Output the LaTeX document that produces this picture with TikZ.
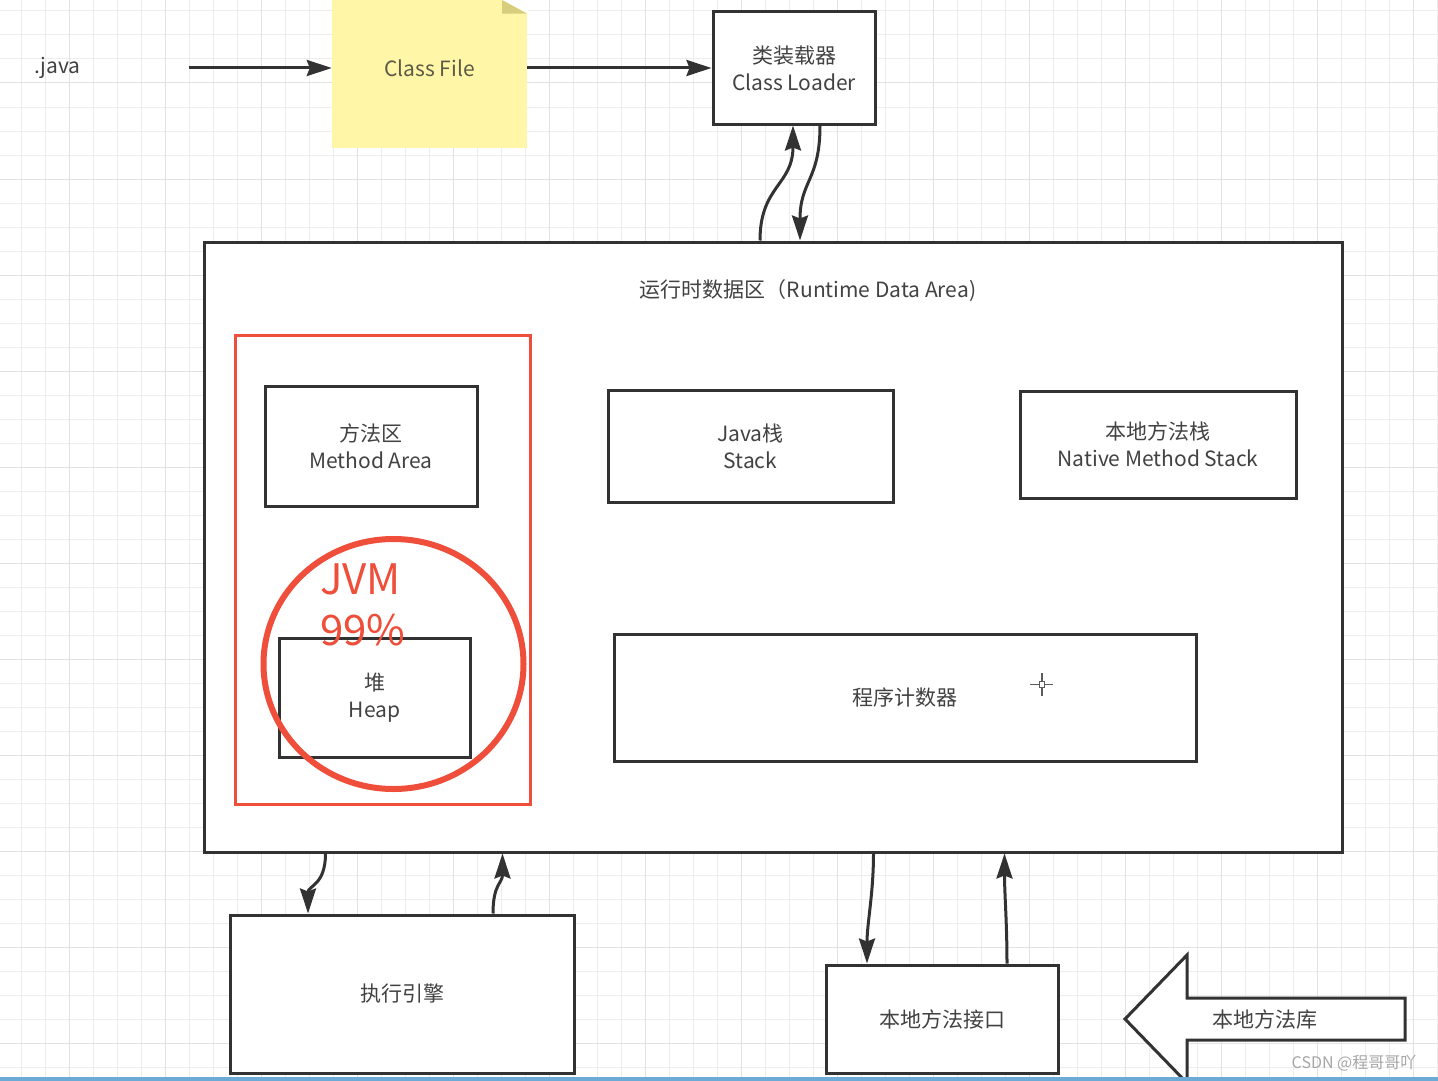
\documentclass[tikz,border=0pt]{standalone}
\usepackage{fontspec}
\setmainfont{Noto Sans CJK SC}
\usepackage{tikz}
\usetikzlibrary{arrows.meta, calc}
\definecolor{gridminor}{RGB}{237,237,237}
\definecolor{gridmajor}{RGB}{226,226,226}
\definecolor{boxline}{RGB}{50,50,50}
\definecolor{boxtext}{RGB}{66,66,66}
\definecolor{noteyellow}{RGB}{255,246,168}
\definecolor{notefold}{RGB}{214,206,124}
\definecolor{notetext}{RGB}{92,90,70}
\definecolor{marker}{RGB}{238,78,58}
\definecolor{screenblue}{RGB}{110,170,214}

\begin{document}
\begin{tikzpicture}[
    x=1pt, y=-1pt,
    box/.style={
        rectangle, draw=boxline, line width=3pt,
        fill=white, inner sep=0pt, align=center,
        text=boxtext, font=\fontsize{21}{27}\selectfont
    },
    arrow/.style={
        -{Stealth[length=25pt, width=16pt, inset=3pt]},
        line width=3pt, draw=boxline
    },
    lbl/.style={
        text=boxtext, inner sep=0pt, align=center,
        font=\fontsize{21}{27}\selectfont
    },
    redmark/.style={
        text=marker, inner sep=0pt,
        font=\fontsize{42}{51}\selectfont
    }
]

\useasboundingbox (0,0) rectangle (1438,1081);
\clip (0,0) rectangle (1438,1081);
\fill[white] (0,0) rectangle (1438,1081);

% grid
\foreach \gx in {0,...,59} \draw[gridminor, line width=1pt] ({21.7+24*\gx},0) -- ++(0,1081);
\foreach \gy in {0,...,44} \draw[gridminor, line width=1pt] (0,{11+24*\gy}) -- ++(1438,0);
\foreach \gx in {0,...,15} \draw[gridmajor, line width=1pt] ({-26.3+96*\gx},0) -- ++(0,1081);
\foreach \gy in {0,...,11} \draw[gridmajor, line width=1pt] (0,{-13+96*\gy}) -- ++(1438,0);

% top row
\node[lbl] (java) at (57.5,68) {.java};

\node[rectangle, fill=noteyellow, inner sep=0pt,
      minimum width=195pt, minimum height=160pt,
      text=notetext, font=\fontsize{21}{27}\selectfont] (classfile) at (429.5,68) {Class File};
\fill[white] (502,0) -- (528,0) -- (528,13.6) -- cycle;
\fill[notefold] (502,0) -- (502,13.6) -- (527,13.6) -- cycle;

\node[box, minimum width=162pt, minimum height=112pt] (loader) at (794,68) {类装载器\\Class Loader};

\draw[arrow] ([xshift=108pt]java.east) -- (classfile.west);
\draw[arrow] (classfile.east) -- (loader.west);

% runtime data area
\node[box, minimum width=1138pt, minimum height=610pt] (rda) at (773,547) {};
\node[lbl] (rdatitle) at (808,291) {运行时数据区（Runtime Data Area)};

\draw[marker, line width=3pt] (235,335) rectangle (530,804);

\node[box, minimum width=212pt, minimum height=120pt] (method) at (371,446) {方法区\\Method Area};
\node[box, minimum width=285pt, minimum height=112pt] (jstack) at (750.5,446) {Java栈\\Stack};
\node[box, minimum width=276pt, minimum height=107pt] (nstack) at (1158,444.5) {本地方法栈\\Native Method Stack};
\node[box, minimum width=191pt, minimum height=119pt] (heap) at (374.5,697.5) {堆\\Heap};
\node[box, minimum width=582pt, minimum height=127pt] (pc) at (905,697.5) {程序计数器};

\draw[marker, line width=6pt] (393.5,664) ellipse [x radius=130, y radius=125];
\node[redmark, anchor=base west] (jvm) at (320,594) {JVM};
\node[redmark, anchor=base west] (share) at (320,645) {99\%};

% cursor
\draw[boxline!80, line width=1.5pt] (1039.5,681.5) rectangle (1044.5,687.5);
\draw[boxline!80, line width=1.5pt] (1042,673) -- (1042,681.5) (1042,687.5) -- (1042,696)
    (1030,684.5) -- (1039.5,684.5) (1044.5,684.5) -- (1053,684.5);

% bottom row
\node[box, minimum width=344pt, minimum height=158pt] (engine) at (402,994) {执行引擎};
\node[box, minimum width=232pt, minimum height=108pt] (nif) at (942,1019) {本地方法接口};

\draw[fill=white, draw=boxline, line width=3pt, line join=miter]
    (1125,1019) -- (1187,955) -- (1187,998) -- (1405,998) -- (1405,1040)
    -- (1187,1040) -- (1187,1083) -- cycle;
\node[lbl] (nlib) at (1265,1019) {本地方法库};

\draw[arrow] ([xshift=-13pt]rda.north) .. controls +(0,-55) and +(0,60) .. ([xshift=-1pt]loader.south);
\draw[arrow] ([xshift=26pt]loader.south) .. controls +(0,55) and +(0,-60) .. ([xshift=27pt]rda.north);

\draw[arrow] ([xshift=123pt]rda.south west) .. controls +(0,32) and +(0,-28) .. ([xshift=-94pt]engine.north);
\draw[arrow] ([xshift=91pt]engine.north) .. controls +(0,-30) and +(0,30) .. ([xshift=300pt]rda.south west);
\draw[arrow] ([xshift=671pt]rda.south west) .. controls +(0,40) and +(0,-40) .. ([xshift=-75pt]nif.north);
\draw[arrow] ([xshift=65pt]nif.north) .. controls +(0,-40) and +(0,40) .. ([xshift=802pt]rda.south west);

\node[text=gray!70, inner sep=0pt, font=\fontsize{16}{18}\selectfont] (mark) at (1354,1063) {CSDN @程哥哥吖};
\fill[screenblue] (0,1077) rectangle (1438,1081);

\end{tikzpicture}
\end{document}
